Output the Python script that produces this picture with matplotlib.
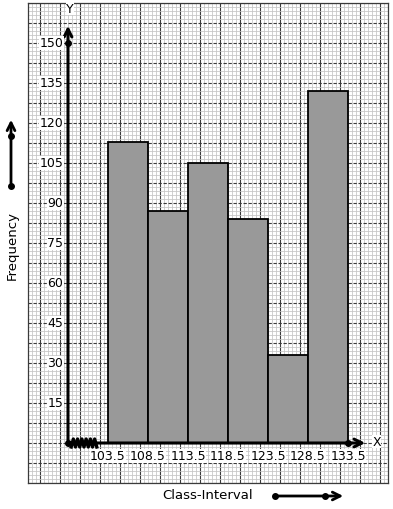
import numpy as np
import matplotlib
matplotlib.use("Agg")
import matplotlib.pyplot as plt
from matplotlib.ticker import MultipleLocator
from matplotlib.lines import Line2D

# Data
edges = [103.5, 108.5, 113.5, 118.5, 123.5, 128.5, 133.5]
freqs = [113, 87, 105, 84, 33, 132]
y_ticks = [15, 30, 45, 60, 75, 90, 105, 120, 135, 150]
x_label = "Class-Interval"
y_label = "Frequency"

W, H = 393, 510
fig = plt.figure(figsize=(W / 100, H / 100), dpi=100)
ax = fig.add_axes([28 / W, 26 / H, 360 / W, 480 / H])
x0 = edges[0] - 5  # origin (broken axis)
ax.set_xlim(x0 - 5, x0 + 40)
ax.set_ylim(-15, 165)

# graph paper
ax.xaxis.set_minor_locator(MultipleLocator(0.5))
ax.yaxis.set_minor_locator(MultipleLocator(1.5))
ax.xaxis.set_major_locator(MultipleLocator(2.5))
ax.yaxis.set_major_locator(MultipleLocator(7.5))
ax.grid(which="minor", color="#c4c4c4", lw=0.55)
ax.grid(which="major", axis="x", color="#3a3a3a", lw=0.8, ls="-")
ax.grid(which="major", axis="y", color="#3a3a3a", lw=0.8, ls=(0, (3, 1.5)))
ax.set_axisbelow(True)
ax.tick_params(which="both", length=0, labelbottom=False, labelleft=False)
for s in ax.spines.values():
    s.set_color("#3a3a3a")
    s.set_linewidth(0.9)

# histogram bars
widths = np.diff(edges)
ax.bar(edges[:-1], freqs, width=widths, align="edge", color="#999999",
       edgecolor="black", linewidth=1.3, zorder=3)

# axes lines with arrows
ax.annotate("", xy=(x0, 157.5), xytext=(x0, 0),
            arrowprops=dict(arrowstyle="->", lw=2.2, color="black",
                            mutation_scale=14), zorder=5)
ax.annotate("", xy=(x0 + 37.5, 0), xytext=(x0, 0),
            arrowprops=dict(arrowstyle="->", lw=2.2, color="black",
                            mutation_scale=14), zorder=5)
ax.plot([x0, x0, edges[-1]], [0, 150, 0], "o", color="black", ms=4, zorder=6)
ax.text(x0 + 0.25, 163.0, "Y", ha="center", va="center", fontsize=9,
        bbox=dict(facecolor="white", edgecolor="none", pad=0.2))
ax.text(x0 + 38.6, 0.5, "X", ha="center", va="center", fontsize=9,
        bbox=dict(facecolor="white", edgecolor="none", pad=0.2))

# zigzag break
n = 13
zx = np.linspace(x0 + 0.4, x0 + 3.6, n)
zy = np.where(np.arange(n) % 2 == 0, -1.5, 1.5)
ax.plot(zx, zy, color="black", lw=2.4, zorder=6)

# tick labels
for v in y_ticks:
    ax.text(x0 - 0.6, v, str(v), ha="right", va="center", fontsize=9,
            bbox=dict(facecolor="white", edgecolor="none", pad=0.3), zorder=7)
for e in edges:
    ax.text(e, -4.8, f"{e:.1f}", ha="center", va="center", fontsize=9,
            bbox=dict(facecolor="white", edgecolor="none", pad=0.3), zorder=7)

# figure-level labels and arrows
fig.text(12 / W, 1 - 245 / H, y_label, rotation=90, ha="center", va="center",
         fontsize=9.5)
fig.text(208 / W, 1 - 496 / H, x_label, ha="center", va="center", fontsize=9.5)

ax.annotate("", xy=(11 / W, 1 - 118 / H), xytext=(11 / W, 1 - 187 / H),
            xycoords="figure fraction", textcoords="figure fraction",
            arrowprops=dict(arrowstyle="->", lw=2.0, color="black",
                            mutation_scale=14), annotation_clip=False)
fig.add_artist(Line2D([11 / W, 11 / W], [1 - 187 / H, 1 - 137 / H], ls="none",
                      marker="o", ms=4, color="black"))
ax.annotate("", xy=(346 / W, 1 - 497 / H), xytext=(275 / W, 1 - 497 / H),
            xycoords="figure fraction", textcoords="figure fraction",
            arrowprops=dict(arrowstyle="->", lw=2.0, color="black",
                            mutation_scale=14), annotation_clip=False)
fig.add_artist(Line2D([275 / W, 325 / W], [1 - 497 / H, 1 - 497 / H], ls="none",
                      marker="o", ms=4, color="black"))

fig.savefig("out.png", dpi=100)
